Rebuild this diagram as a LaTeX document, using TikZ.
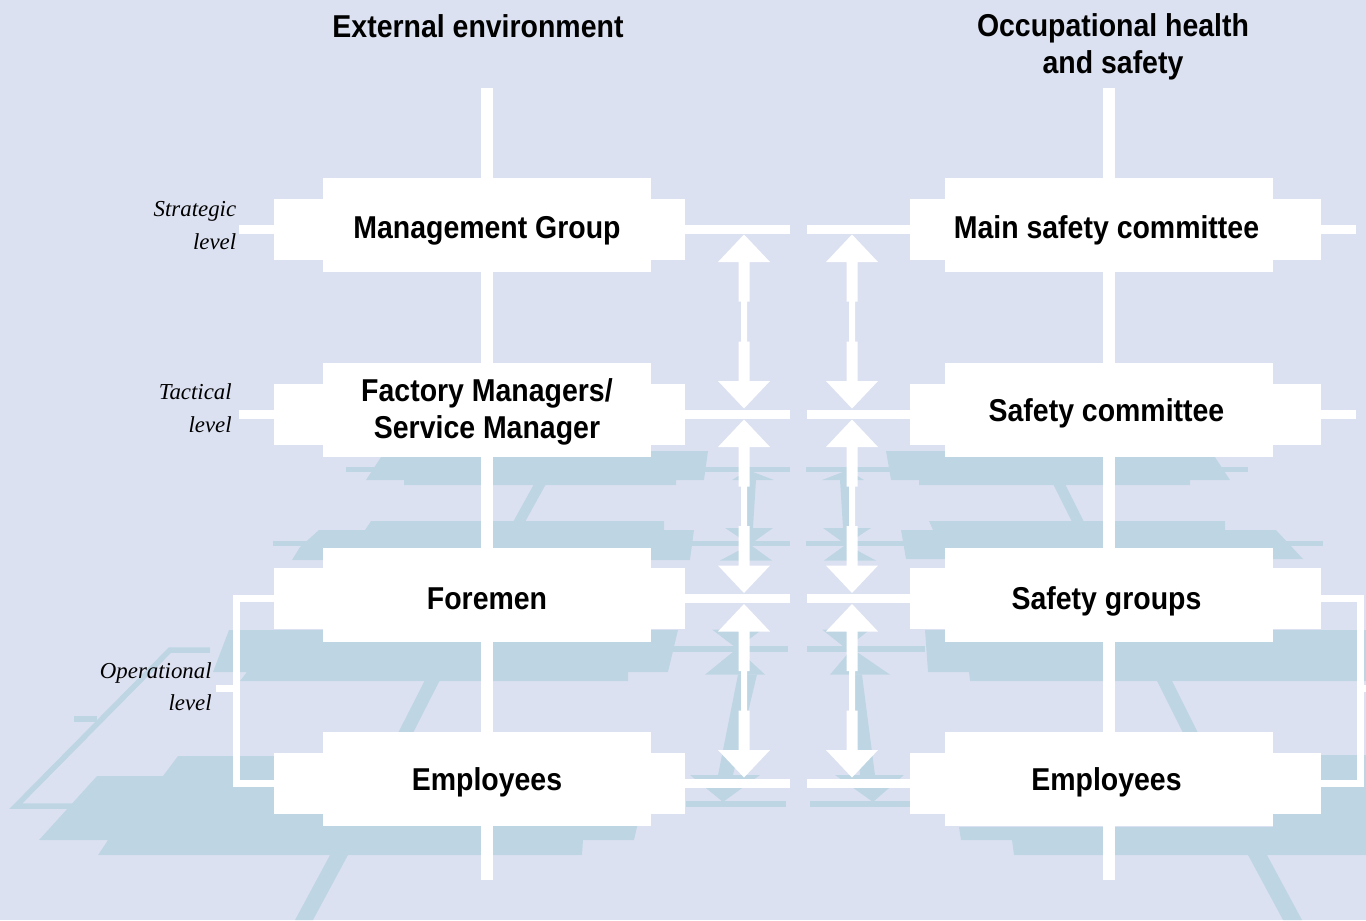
\documentclass[tikz,border=0pt]{standalone}
\usepackage{fontspec}
\newfontfamily\boxfont[FakeStretch=0.9]{Liberation Sans}
\newfontfamily\lvlfont{Liberation Serif}
\definecolor{bgc}{RGB}{220,225,241}
\definecolor{shc}{RGB}{190,213,227}
% double-headed white arrow: x, top tip y, bottom tip y
\newcommand\dblarr[3]{%
 \fill[white] (#1,#2) -- ({#1+26},{#2+27.5}) -- ({#1+5.5},{#2+27.5}) -- ({#1+5.5},{#2+67}) -- ({#1+3},{#2+67}) -- ({#1+3},{#3-67}) -- ({#1+5.5},{#3-67}) -- ({#1+5.5},{#3-27.5}) -- ({#1+26},{#3-27.5}) -- (#1,#3) -- ({#1-26},{#3-27.5}) -- ({#1-5.5},{#3-27.5}) -- ({#1-5.5},{#3-67}) -- ({#1-3},{#3-67}) -- ({#1-3},{#2+67}) -- ({#1-5.5},{#2+67}) -- ({#1-5.5},{#2+27.5}) -- ({#1-26},{#2+27.5}) -- cycle;}
\begin{document}
\begin{tikzpicture}[x=0.02cm,y=-0.02cm,
  tallbox/.style={fill=white,draw=none,inner sep=0pt,outer sep=0pt,minimum width=6.56cm,minimum height=1.88cm},
  widebox/.style={fill=white,draw=none,inner sep=0pt,outer sep=0pt,minimum width=8.22cm,minimum height=1.22cm},
  boxtext/.style={font=\boxfont\bfseries\fontsize{18}{21}\selectfont,text=black,inner sep=0pt,align=center},
  lvl/.style={font=\lvlfont\itshape\fontsize{13}{18.5}\selectfont,text=black,inner sep=0pt,align=right,anchor=east},
  trunk/.style={draw=white,line width=0.25cm},
  hline/.style={draw=white,line width=0.18cm},
  brk/.style={draw=white,line width=0.14cm},
  shadow/.style={fill=shc}]
\fill[bgc] (0,0) rectangle (1366,920);
\useasboundingbox (0,0) rectangle (1366,920);

% ---------- reflections / floor shadows ----------
% left side
\fill[shadow] (385,451) -- (708,451) -- (704,480) -- (676,480) -- (676,485) -- (404,485) -- (404,480) -- (366,480) -- cycle;
\fill[shadow] (346,466.5) rectangle (790,471.5);
\fill[shadow] (534,484) -- (546,484) -- (525,522) -- (513,522) -- cycle;
\fill[shadow] (371,521) -- (664,521) -- (664,530) -- (694,530) -- (690,560) -- (292,560) -- (300,547) -- (319,530) -- (365,530) -- cycle;
\fill[shadow] (273,541) rectangle (790,546);
\fill[shadow] (229,630) -- (678,630) -- (668,672) -- (628,672) -- (628,681) -- (240,681) -- (247,672) -- (213,672) -- cycle;
\fill[shadow] (672,646) rectangle (788,652);
\fill[shadow] (425,680) -- (440,680) -- (413,733) -- (398,733) -- cycle;
\draw[shc,line width=0.11cm] (210,650) -- (170,650) -- (16,806) -- (75,806);
\fill[shadow] (74,716) rectangle (97,722);
\fill[shadow] (178,756) -- (640,756) -- (637,827) -- (634,840) -- (583,840) -- (582,855) -- (98,855) -- (108,840) -- (39,840) -- (97,776) -- (163,776) -- cycle;
\fill[shadow] (330,855) -- (348,855) -- (313,920) -- (295,920) -- cycle;
% right side
\fill[shadow] (886,451) -- (1211,451) -- (1230,480) -- (1190,480) -- (1190,485) -- (919,485) -- (919,480) -- (891,480) -- cycle;
\fill[shadow] (806,466.5) rectangle (1248,471.5);
\fill[shadow] (1053,484) -- (1065,484) -- (1084,522) -- (1072,522) -- cycle;
\fill[shadow] (929,521) -- (1225,521) -- (1225,530) -- (1276,530) -- (1303,559) -- (906,559) -- (901,530) -- (933,530) -- cycle;
\fill[shadow] (806,541) rectangle (1323,546);
\fill[shadow] (807,646) rectangle (925,652);
\fill[shadow] (925,630) -- (1366,630) -- (1366,681) -- (970,681) -- (969,672) -- (928,672) -- cycle;
\fill[shadow] (1157,681) -- (1172,681) -- (1198,733) -- (1183,733) -- cycle;
\fill[shadow] (1273,755) -- (1366,755) -- (1366,855) -- (1014,855) -- (1012,840) -- (961,840) -- (959,827) -- (1273,827) -- cycle;
\fill[shadow] (1248,855) -- (1267,855) -- (1302,920) -- (1283,920) -- cycle;
% arrow reflections, left column
\fill[shadow] (748,470) -- (774,480) -- (732,480) -- cycle;
\fill[shadow] (745,480) -- (756,480) -- (753,528) -- (747,528) -- cycle;
\fill[shadow] (725,528) -- (773,528) -- (750,544.5) -- cycle;
\fill[shadow] (750,544.5) -- (772,560.5) -- (720,560.5) -- cycle;
\fill[shadow] (712,629.5) -- (762,629.5) -- (737,648.6) -- cycle;
\fill[shadow] (737,648.6) -- (765,674.6) -- (705,674.6) -- cycle;
\fill[shadow] (738,674.6) -- (757,674.6) -- (733,775) -- (718,775) -- cycle;
\fill[shadow] (690,775) -- (760,775) -- (723,802) -- cycle;
\fill[shadow] (686,801) rectangle (786,807);
% arrow reflections, right column
\fill[shadow] (848,470) -- (864,480) -- (822,480) -- cycle;
\fill[shadow] (840,480) -- (851,480) -- (849,528) -- (843,528) -- cycle;
\fill[shadow] (823,528) -- (871,528) -- (846,544.5) -- cycle;
\fill[shadow] (846,544.5) -- (876,560.5) -- (824,560.5) -- cycle;
\fill[shadow] (822,629.5) -- (870,629.5) -- (846,648.6) -- cycle;
\fill[shadow] (852,648.6) -- (890,674.6) -- (830,674.6) -- cycle;
\fill[shadow] (850,674.6) -- (862,674.6) -- (875,775) -- (860,775) -- cycle;
\fill[shadow] (835,775) -- (904,775) -- (873,802) -- cycle;
\fill[shadow] (810,801) rectangle (910,807);

% ---------- boxes (cross shaped) ----------
\node[widebox] (mgw) at (479.5,229) {};
\node[tallbox] (mg) at (487,225) {};
\node[widebox] (fmw) at (479.5,414) {};
\node[tallbox] (fm) at (487,410) {};
\node[widebox] (fow) at (479.5,598.5) {};
\node[tallbox] (fo) at (487,594.5) {};
\node[widebox] (elw) at (479.5,783) {};
\node[tallbox] (el) at (487,779) {};

\node[widebox] (mscw) at (1115.5,229) {};
\node[tallbox] (msc) at (1109,225) {};
\node[widebox] (scw) at (1115.5,414) {};
\node[tallbox] (sc) at (1109,410) {};
\node[widebox] (sgw) at (1115.5,598.5) {};
\node[tallbox] (sg) at (1109,594.5) {};
\node[widebox] (erw) at (1115.5,783) {};
\node[tallbox] (er) at (1109,779) {};

% ---------- trunks ----------
\coordinate (ltop) at (487,88);
\coordinate (lbot) at (487,880);
\coordinate (rtop) at (1109,88);
\coordinate (rbot) at (1109,880);
\draw[trunk] (ltop) -- (mg.north);
\draw[trunk] (mg.south) -- (fm.north);
\draw[trunk] (fm.south) -- (fo.north);
\draw[trunk] (fo.south) -- (el.north);
\draw[trunk] (el.south) -- (lbot);
\draw[trunk] (rtop) -- (msc.north);
\draw[trunk] (msc.south) -- (sc.north);
\draw[trunk] (sc.south) -- (sg.north);
\draw[trunk] (sg.south) -- (er.north);
\draw[trunk] (er.south) -- (rbot);

% ---------- horizontal level lines ----------
\draw[hline] (mgw.west) -- (239,229) coordinate (lt1);
\draw[hline] (fmw.west) -- (239,414) coordinate (lt2);
\draw[hline] (mgw.east) -- (790,229) coordinate (lr1);
\draw[hline] (fmw.east) -- (790,414) coordinate (lr2);
\draw[hline] (fow.east) -- (790,598.5) coordinate (lr3);
\draw[hline] (elw.east) -- (790,783) coordinate (lr4);
\draw[hline] (mscw.west) -- (807,229) coordinate (rl1);
\draw[hline] (scw.west) -- (807,414) coordinate (rl2);
\draw[hline] (sgw.west) -- (807,598.5) coordinate (rl3);
\draw[hline] (erw.west) -- (807,783) coordinate (rl4);
\draw[hline] (mscw.east) -- (1356,229) coordinate (rt1);
\draw[hline] (scw.east) -- (1356,414) coordinate (rt2);

% ---------- operational brackets ----------
\draw[brk] (fow.west) -- (236,598.5) -- (236,783) -- (elw.west);
\draw[brk] (236,688) -- (216,688) coordinate (lbt);
\draw[brk] (sgw.east) -- (1360,598.5) -- (1360,783) -- (erw.east);
\draw[brk] (1360,688) -- (1366,688) coordinate (rbt);

% ---------- redraw boxes on top of lines ----------
\fill[white] (mgw.south west) rectangle (mgw.north east);
\fill[white] (mg.south west) rectangle (mg.north east);
\fill[white] (fmw.south west) rectangle (fmw.north east);
\fill[white] (fm.south west) rectangle (fm.north east);
\fill[white] (fow.south west) rectangle (fow.north east);
\fill[white] (fo.south west) rectangle (fo.north east);
\fill[white] (elw.south west) rectangle (elw.north east);
\fill[white] (el.south west) rectangle (el.north east);
\fill[white] (mscw.south west) rectangle (mscw.north east);
\fill[white] (msc.south west) rectangle (msc.north east);
\fill[white] (scw.south west) rectangle (scw.north east);
\fill[white] (sc.south west) rectangle (sc.north east);
\fill[white] (sgw.south west) rectangle (sgw.north east);
\fill[white] (sg.south west) rectangle (sg.north east);
\fill[white] (erw.south west) rectangle (erw.north east);
\fill[white] (er.south west) rectangle (er.north east);

% ---------- double arrows ----------
\dblarr{744}{234.5}{408.5}
\dblarr{744}{419.5}{593}
\dblarr{744}{604}{777.5}
\dblarr{852}{234.5}{408.5}
\dblarr{852}{419.5}{593}
\dblarr{852}{604}{777.5}

% ---------- texts ----------
\node[boxtext,anchor=base] (mgt) at (487,238) {Management Group};
\node[boxtext] (fmt) at (487,412) {Factory Managers/\\Service Manager};
\node[boxtext,anchor=base] (fot) at (487,609) {Foremen};
\node[boxtext,anchor=base] (elt) at (487,790) {Employees};
\node[boxtext,anchor=base] (msct) at (1106.5,238) {Main safety committee};
\node[boxtext,anchor=base] (sct) at (1106.5,421) {Safety committee};
\node[boxtext,anchor=base] (sgt) at (1106.5,609) {Safety groups};
\node[boxtext,anchor=base] (ert) at (1106.5,790) {Employees};

\node[boxtext,anchor=base] (t1) at (478,37) {External environment};
\node[boxtext] (t2) at (1113,47) {Occupational health\\and safety};

\node[lvl] (l1) at (236.5,225.7) {Strategic\\level};
\node[lvl] (l2) at (232,408.3) {Tactical\\level};
\node[lvl] (l3) at (212,686.7) {Operational\\level};
\end{tikzpicture}
\end{document}
